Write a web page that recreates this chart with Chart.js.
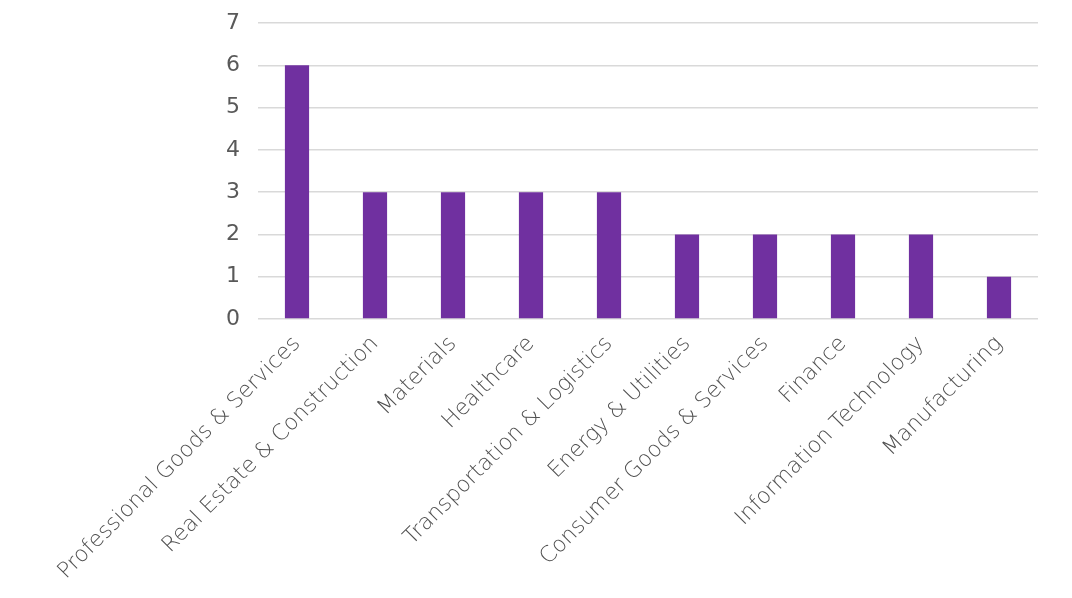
<!DOCTYPE html>
<html>
<head>
<meta charset="utf-8">
<script src="https://cdn.jsdelivr.net/npm/chart.js@4"></script>
<style>
  html, body { margin: 0; padding: 0; background: #fff; }
  #wrap { width: 1072px; height: 598px; }
</style>
</head>
<body>
<div id="wrap"><canvas id="sectorChart"></canvas></div>
<script>
const sectors = [
    "Professional Goods & Services",
    "Real Estate & Construction",
    "Materials",
    "Healthcare",
    "Transportation & Logistics",
    "Energy & Utilities",
    "Consumer Goods & Services",
    "Finance",
    "Information Technology",
    "Manufacturing"
];
const counts = [6, 3, 3, 3, 3, 2, 2, 2, 2, 1];
const yTicks = [0, 1, 2, 3, 4, 5, 6, 7];

const ctx = document.getElementById("sectorChart").getContext("2d");

new Chart(ctx, {
    type: "bar",
    data: {
        labels: sectors,
        datasets: [{
            label: "Count",
            data: counts,
            backgroundColor: "#7030A0",
            categoryPercentage: 1.0,
            barPercentage: 0.31
        }]
    },
    options: {
        responsive: true,
        maintainAspectRatio: false,
        animation: false,
        layout: { padding: { top: 23, right: 34, left: 0, bottom: 0 } },
        scales: {
            x: {
                grid: { display: false },
                border: { display: false },
                ticks: {
                    maxRotation: 45,
                    minRotation: 45,
                    autoSkip: false,
                    color: "#505050",
                    padding: 4,
                    font: { family: "DejaVu Sans", weight: 200, size: 22 }
                },
                afterFit: (scale) => {
                    scale.height = 279;
                    scale.paddingTop = 0;
                    scale.paddingLeft = 0;
                    scale.paddingRight = 0;
                }
            },
            y: {
                min: 0,
                max: 7,
                afterBuildTicks: (scale) => {
                    scale.ticks = yTicks.map(v => ({ value: v }));
                },
                grid: { color: "#D9D9D9", lineWidth: 1.5, drawTicks: false },
                border: { display: false },
                ticks: {
                    color: "#595959",
                    padding: 18,
                    font: { family: "DejaVu Sans", size: 22 }
                },
                afterFit: (scale) => {
                    scale.width = 258;
                    scale.paddingTop = 0;
                    scale.paddingBottom = 0;
                }
            }
        },
        plugins: {
            legend: { display: false },
            title: { display: false },
            tooltip: { enabled: false }
        }
    }
});
</script>
</body>
</html>
